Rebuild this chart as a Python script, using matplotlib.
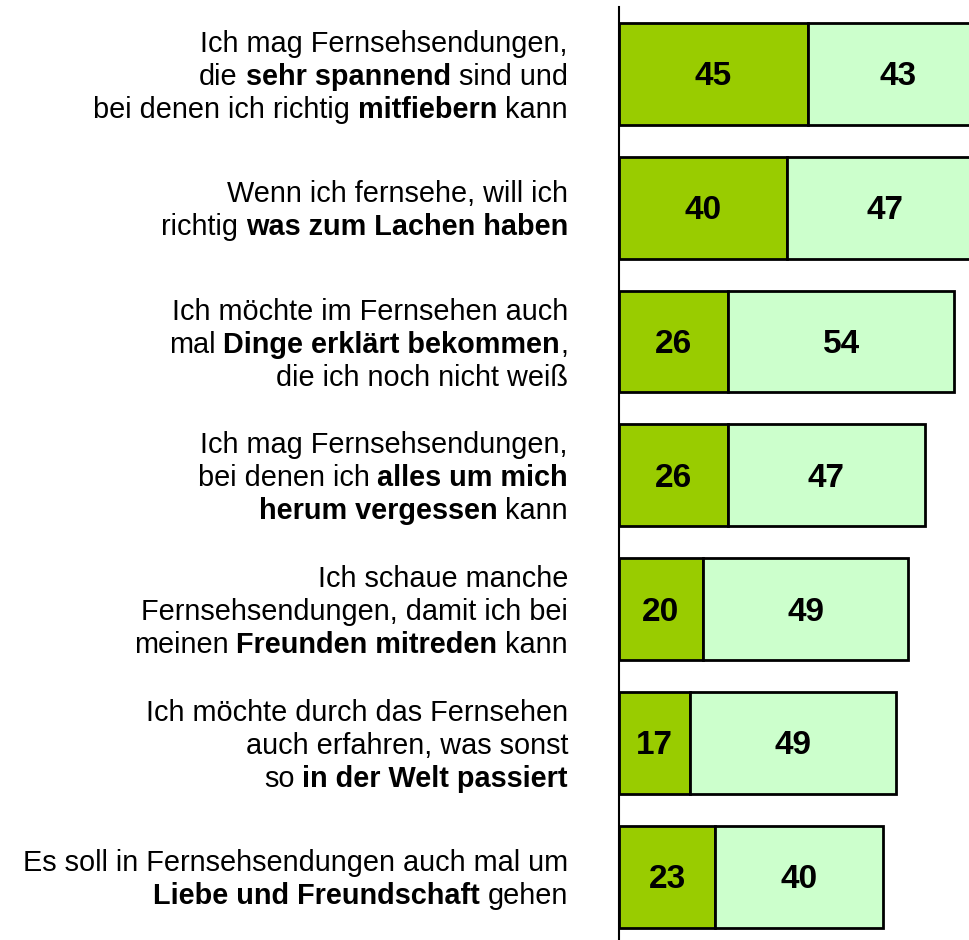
import numpy as np
import matplotlib.pyplot as plt

plt.rcParams['font.family'] = ['Liberation Sans', 'DejaVu Sans']

# each label: lines -> segments (text, bold)
labels = [
    [[("Ich mag Fernsehsendungen,", False)],
     [("die", False), ("sehr spannend", True), ("sind und", False)],
     [("bei denen ich richtig", False), ("mitfiebern", True), ("kann", False)]],
    [[("Wenn ich fernsehe, will ich", False)],
     [("richtig", False), ("was zum Lachen haben", True)]],
    [[("Ich möchte im Fernsehen auch", False)],
     [("mal", False), ("Dinge erklärt bekommen", True), (",", False)],
     [("die ich noch nicht weiß", False)]],
    [[("Ich mag Fernsehsendungen,", False)],
     [("bei denen ich", False), ("alles um mich", True)],
     [("herum vergessen", True), ("kann", False)]],
    [[("Ich schaue manche", False)],
     [("Fernsehsendungen, damit ich bei", False)],
     [("meinen", False), ("Freunden mitreden", True), ("kann", False)]],
    [[("Ich möchte durch das Fernsehen", False)],
     [("auch erfahren, was sonst", False)],
     [("so", False), ("in der Welt passiert", True)]],
    [[("Es soll in Fernsehsendungen auch mal um", False)],
     [("Liebe und Freundschaft", True), ("gehen", False)]],
]
series_a = [45, 40, 26, 26, 20, 17, 23]
series_b = [43, 47, 54, 47, 49, 49, 40]

c_a = '#99CC00'
c_b = '#CCFFCC'

W, H = 969, 940
fig = plt.figure(figsize=(W / 100, H / 100), dpi=100)
ax_left = 619 / W
ax_top = 7
pitch = 133.8
ax_h = pitch * 7
ax = fig.add_axes([ax_left, 1 - (ax_top + ax_h) / H, 1 - ax_left, ax_h / H])

y = np.arange(len(series_a))
ax.barh(y, series_a, height=0.76, color=c_a, edgecolor='black', linewidth=2)
ax.barh(y, series_b, left=series_a, height=0.76, color=c_b, edgecolor='black', linewidth=2)
ax.set_ylim(6.5, -0.5)
ax.set_xlim(0, 83.5)

for i in range(len(y)):
    ax.annotate(str(series_a[i]), xy=(series_a[i] / 2, y[i]), xytext=(0, -3),
                textcoords='offset pixels', ha='center', va='center',
                fontsize=24, fontweight='bold')
    ax.annotate(str(series_b[i]), xy=(series_a[i] + series_b[i] / 2, y[i]), xytext=(0, -3),
                textcoords='offset pixels', ha='center', va='center',
                fontsize=24, fontweight='bold')

for s in ['top', 'right', 'bottom']:
    ax.spines[s].set_visible(False)
ax.spines['left'].set_linewidth(1.5)
ax.set_xticks([])
ax.set_yticks([])

# mixed bold/regular labels, right aligned
renderer = fig.canvas.get_renderer()
fs = 20.8


def width_of(s, bold):
    t = fig.text(0, 0, s, fontsize=fs, fontweight='bold' if bold else 'normal')
    w = t.get_window_extent(renderer).width
    t.remove()
    return w


space_w = width_of("x x", False) - width_of("xx", False)
line_h = 33
right_px = 51
ytrans = ax.get_yaxis_transform()

for i, lines in enumerate(labels):
    n = len(lines)
    for k, line in enumerate(lines):
        dy = ((n - 1) / 2 - k) * line_h - 3
        off = right_px
        segs = list(reversed(line))
        for j, (seg, bold) in enumerate(segs):
            t = ax.annotate(seg, xy=(0, y[i]), xycoords=ytrans,
                            xytext=(-off, dy), textcoords='offset pixels',
                            ha='right', va='center', fontsize=fs,
                            fontweight='bold' if bold else 'normal')
            off += t.get_window_extent(renderer).width
            if j + 1 < len(segs) and seg != ",":
                off += space_w

fig.savefig('out.png', dpi=100)
